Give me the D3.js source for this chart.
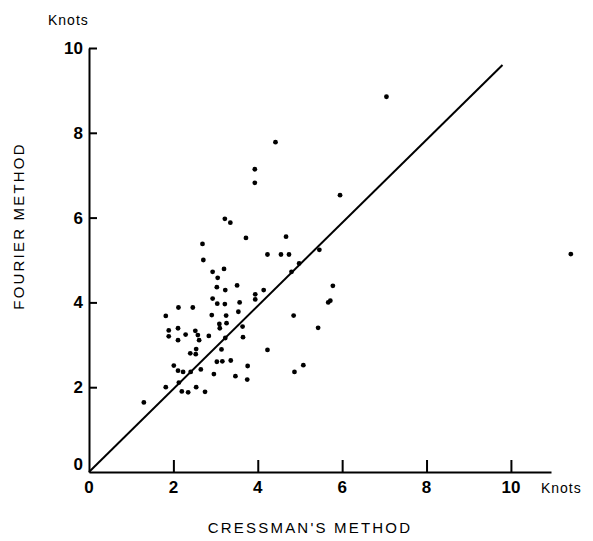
<!DOCTYPE html>
<html><head><meta charset="utf-8">
<script src="https://cdn.jsdelivr.net/npm/d3@7"></script>
<style>body{margin:0;background:#fff}svg{display:block}</style>
</head><body>
<script>
// Data: Cressman's method (x, knots) vs Fourier method (y, knots)
const cressman = [7.05,4.42,3.93,3.93,5.95,3.22,3.35,4.67,3.72,2.69,5.46,4.23,4.55,4.74,2.71,4.98,3.20,2.93,4.80,3.05,
  3.51,5.78,3.03,3.23,4.14,3.94,3.94,2.93,5.67,5.72,3.04,3.22,3.57,2.12,2.46,1.82,2.91,3.25,3.54,4.85,
  5.43,1.89,2.11,1.89,2.11,2.29,2.52,2.58,2.61,2.84,3.09,3.26,3.10,3.64,3.65,3.23,2.54,2.40,2.53,3.14,
  4.23,3.03,3.16,3.36,3.76,5.08,2.01,2.11,2.23,2.41,2.65,2.96,3.47,3.75,4.87,2.13,1.82,2.54,2.20,2.35,
  2.75,1.30,11.42];
const fourier = [8.85,7.78,7.14,6.82,6.53,5.97,5.88,5.55,5.52,5.38,5.24,5.13,5.13,5.13,5.00,4.92,4.79,4.72,4.72,4.58,
  4.40,4.39,4.36,4.29,4.29,4.19,4.07,4.09,4.00,4.04,3.97,3.96,4.00,3.88,3.88,3.68,3.70,3.69,3.78,3.69,
  3.40,3.34,3.39,3.20,3.11,3.24,3.33,3.23,3.11,3.21,3.49,3.51,3.39,3.43,3.18,3.16,2.90,2.80,2.78,2.89,
  2.88,2.60,2.61,2.63,2.50,2.52,2.51,2.39,2.36,2.36,2.42,2.31,2.26,2.18,2.36,2.11,2.00,2.00,1.90,1.88,
  1.89,1.64,5.14];
const lineX = [0, 9.8];
const lineY = [0, 9.6];
const xTicks = [0, 2, 4, 6, 8, 10];
const yTicks = [0, 2, 4, 6, 8, 10];
const xTitle = "CRESSMAN'S METHOD";
const yTitle = "FOURIER METHOD";
const unitLabel = "Knots";

const W = 593, H = 541;
const svg = d3.select("body").append("svg").attr("width", W).attr("height", H);
const x = d3.scaleLinear().domain([0, 10.95]).range([89, 551]);
const y = d3.scaleLinear().domain([0, 10]).range([472, 48]);
const font = "'Liberation Sans', Arial, sans-serif";

// X axis
const xAxis = d3.axisBottom(x).tickValues(xTicks.filter(d => d > 0)).tickSizeInner(-12).tickSizeOuter(0).tickFormat("");
const gx = svg.append("g").attr("transform", `translate(0,${y(0)})`).call(xAxis);
gx.selectAll("path.domain").attr("stroke", "#000").attr("stroke-width", 2);
gx.selectAll(".tick line").attr("stroke", "#000").attr("stroke-width", 2);
svg.append("g").selectAll("text").data(xTicks).join("text")
  .attr("x", d => x(d)).attr("y", y(0) + 21)
  .attr("text-anchor", "middle").attr("font-family", font).attr("font-weight", "bold")
  .attr("font-size", 17).text(d => d);
svg.append("text").attr("x", x(10) + 30).attr("y", y(0) + 21)
  .attr("font-family", font).attr("font-size", 14).attr("letter-spacing", 1).text(unitLabel);

// Y axis
const yAxis = d3.axisLeft(y).tickValues(yTicks.filter(d => d > 0)).tickSizeInner(-8).tickSizeOuter(0).tickFormat("");
const gy = svg.append("g").attr("transform", `translate(${x(0)},0)`).call(yAxis);
gy.selectAll("path.domain").attr("stroke", "#000").attr("stroke-width", 2);
gy.selectAll(".tick line").attr("stroke", "#000").attr("stroke-width", 2);
svg.append("g").selectAll("text").data(yTicks).join("text")
  .attr("x", x(0) - 6).attr("y", d => y(d) + (d === 0 ? -2 : 6))
  .attr("text-anchor", "end").attr("font-family", font).attr("font-weight", "bold")
  .attr("font-size", 17).text(d => d);
svg.append("text").attr("x", 48).attr("y", 25)
  .attr("font-family", font).attr("font-size", 14).attr("letter-spacing", 1).text(unitLabel);

// Titles
svg.append("text").attr("x", 310).attr("y", 533).attr("text-anchor", "middle")
  .attr("font-family", font).attr("font-size", 15).attr("letter-spacing", 2.2).text(xTitle);
svg.append("text").attr("transform", `translate(24,226) rotate(-90)`).attr("text-anchor", "middle")
  .attr("font-family", font).attr("font-size", 15).attr("letter-spacing", 2.2).text(yTitle);

// Diagonal line
svg.append("line")
  .attr("x1", x(lineX[0])).attr("y1", y(lineY[0]))
  .attr("x2", x(lineX[1])).attr("y2", y(lineY[1]))
  .attr("stroke", "#000").attr("stroke-width", 2);

// Points
svg.append("g").selectAll("circle").data(cressman.map((v, i) => [v, fourier[i]])).join("circle")
  .attr("cx", d => x(d[0])).attr("cy", d => y(d[1])).attr("r", 2.4).attr("fill", "#000");
</script>
</body></html>
